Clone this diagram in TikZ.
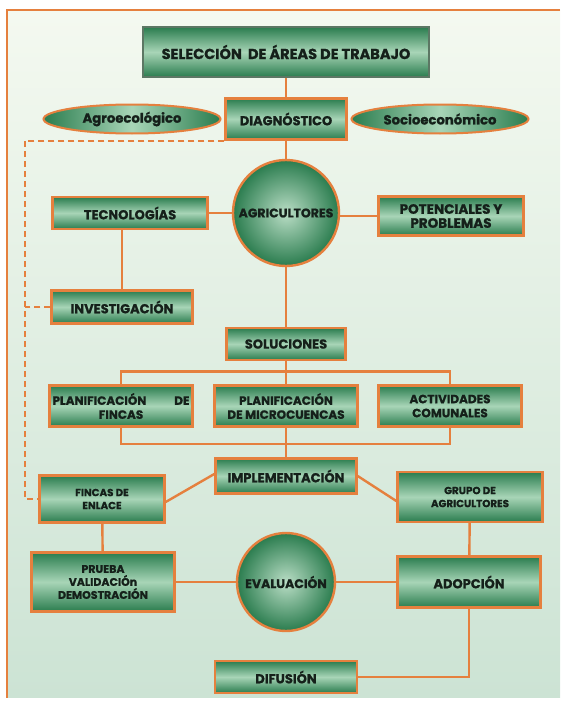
\documentclass[tikz,border=0pt]{standalone}
\usepackage{fontspec}
\setmainfont{Poppins}[BoldFeatures={FakeBold=1}]
\usepackage{tikz}
\usetikzlibrary{shapes.geometric}
\definecolor{frameorange}{HTML}{E5803E}
\definecolor{boxdark}{HTML}{2A7C4E}
\definecolor{boxlight}{HTML}{A8D5B7}
\definecolor{bgtop}{HTML}{F4F9F0}
\definecolor{bgbottom}{HTML}{CCE3D4}
\definecolor{labeltext}{HTML}{15201A}
\definecolor{selborder}{HTML}{5C7764}
\tikzstyle{stage} = [rectangle, draw=frameorange, line width=2.4pt,
    top color=boxdark, bottom color=boxdark, middle color=boxlight,
    text=labeltext, align=center, inner sep=2pt,
    font=\bfseries\fontsize{13}{14}\selectfont]
\tikzstyle{midstage} = [stage, font=\bfseries\fontsize{12}{14}\selectfont]
\tikzstyle{smallstage} = [stage, font=\bfseries\fontsize{10.3}{13}\selectfont]
\tikzstyle{selbox} = [stage, draw=selborder, line width=1.2pt,
    font=\bfseries\fontsize{14.5}{16}\selectfont]
\tikzstyle{aspect} = [ellipse, draw=frameorange, line width=2pt, inner sep=0pt,
    left color=boxdark, right color=boxdark, middle color=boxlight,
    text=labeltext, font=\bfseries\fontsize{13.2}{14}\selectfont]
\tikzstyle{hub} = [circle, draw=frameorange, line width=2.4pt, inner sep=0pt,
    inner color=boxlight!80!white, outer color=boxdark, text=labeltext,
    font=\bfseries\fontsize{12.5}{14}\selectfont]
\tikzstyle{link} = [draw=frameorange, line width=2.4pt]
\tikzstyle{dashlink} = [draw=frameorange, line width=1.6pt, dash pattern=on 6pt off 4pt]

\begin{document}
\begin{tikzpicture}
    \useasboundingbox (0pt,0pt) rectangle (560pt,-701pt);
    % Background and frame
    \fill[top color=bgtop, bottom color=bgbottom] (7pt,-10pt) rectangle (560pt,-697pt);
    \draw[frameorange, line width=1.6pt] (560pt,-10pt) -- (7pt,-10pt) -- (7pt,-698pt);
    % Top rows
    \node[selbox, minimum width=286pt, minimum height=50pt] (sel) at (286pt,-52pt)
        {SELECCIÓN\ \ DE ÁREAS DE TRABAJO};
    \node[stage, node distance=67pt, below of=sel, minimum width=121pt,
        minimum height=41pt] (diag) {DIAGNÓSTICO};
    \node[aspect, node distance=154pt, left of=diag, minimum width=177pt,
        minimum height=29pt] (agro) {Agroecológico};
    \node[aspect, node distance=154pt, right of=diag, minimum width=177pt,
        minimum height=29pt] (socio) {Socioeconómico};
    \node[hub, node distance=94pt, below of=diag, minimum size=106pt] (agri) {AGRICULTORES};
    \node[stage, node distance=156pt, left of=agri, minimum width=155pt,
        minimum height=32pt] (tec) {TECNOLOGÍAS};
    \node[midstage, node distance=165pt, right of=agri, yshift=-3pt, minimum width=145pt,
        minimum height=39pt, font=\bfseries\fontsize{13.5}{14}\selectfont] (pot)
        {POTENCIALES Y\\PROBLEMAS};
    \node[stage, node distance=94pt, below of=tec, xshift=-8pt, minimum width=141pt,
        minimum height=33pt] (inv) {INVESTIGACIÓN};
    % Solutions
    \node[stage, node distance=131pt, below of=agri, minimum width=119pt,
        minimum height=32pt] (sol) {SOLUCIONES};
    \node[midstage, node distance=62pt, below of=sol, minimum width=143pt,
        minimum height=41pt] (pmic) {PLANIFICACIÓN\\DE MICROCUENCAS};
    \node[midstage, node distance=165pt, left of=pmic, minimum width=143pt,
        minimum height=41pt, text width=137pt, inner sep=1pt] (pfin) {PLANIFICACIÓN\hfill DE\\FINCAS};
    \node[midstage, node distance=164pt, right of=pmic, minimum width=143pt,
        minimum height=41pt] (act) {ACTIVIDADES\\COMUNALES};
    % Implementation and evaluation
    \node[stage, node distance=70pt, below of=pmic, minimum width=141pt,
        minimum height=35pt] (impl) {IMPLEMENTACIÓN};
    \node[smallstage, node distance=184pt, left of=impl, yshift=-23pt, minimum width=125pt,
        minimum height=47pt] (fenl) {FINCAS DE\\ENLACE};
    \node[smallstage, node distance=184pt, right of=impl, yshift=-21pt, minimum width=145pt,
        minimum height=50pt] (grupo) {GRUPO DE\\AGRICULTORES};
    \node[hub, node distance=106pt, below of=impl, minimum size=98pt] (eval) {EVALUACIÓN};
    \node[smallstage, node distance=183pt, left of=eval, minimum width=143pt,
        minimum height=59pt, font=\bfseries\fontsize{11}{13}\selectfont] (prueba)
        {PRUEBA\\VALIDACIÓn\\DEMOSTRACIÓN};
    \node[stage, node distance=183pt, right of=eval, minimum width=143pt,
        minimum height=51pt] (adop) {ADOPCIÓN};
    \node[stage, node distance=95pt, below of=eval, minimum width=142pt,
        minimum height=32pt] (dif) {DIFUSIÓN};
    \coordinate (dashx) at (25pt,0pt);
    % Connectors
    \draw[link] (sel) -- (diag);
    \draw[link] (diag) -- (agri);
    \draw[link] (agri) -- (tec);
    \draw[link] (agri.east |- pot) -- (pot);
    \draw[link] (inv) -- (inv |- tec.south);
    \draw[link] (agri) -- (sol);
    \draw[link] (sol) -- (pmic);
    \draw[link] (pfin.north) -- ++(0pt,13pt) -| (act.north);
    \draw[link] (pfin.south) -- ++(0pt,-16pt) -| (act.south);
    \draw[link] (pmic) -- (impl);
    \draw[link] ([yshift=2pt]impl.west) -- ([yshift=-3pt]fenl.east);
    \draw[link] (impl.east) -- ([yshift=-4pt]grupo.west);
    \draw[link] (fenl) -- (prueba);
    \draw[link] (grupo) -- (adop);
    \draw[link] (prueba) -- (eval);
    \draw[link] (eval) -- (adop);
    \draw[link] (adop.south) |- (dif.east);
    \draw[dashlink] (diag.south west) -- (diag.south west -| dashx) |- (fenl.west);
    \draw[dashlink] (inv.west) -- (inv.west -| dashx);
\end{tikzpicture}
\end{document}
